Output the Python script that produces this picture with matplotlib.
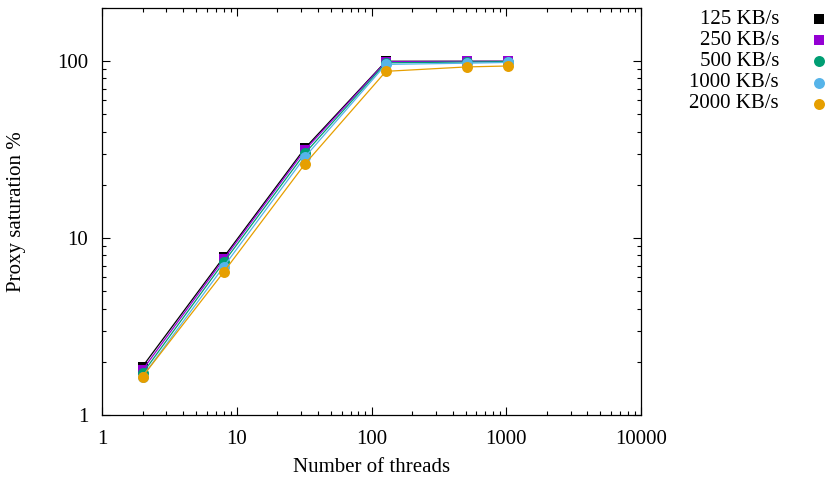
import matplotlib
matplotlib.use("Agg")
import matplotlib.pyplot as plt
from matplotlib.lines import Line2D
from matplotlib.ticker import LogLocator, NullFormatter, FixedLocator, FixedFormatter

plt.rcParams['font.family'] = ['Liberation Serif', 'DejaVu Serif']
plt.rcParams['font.size'] = 15

# data
threads = [2, 8, 32, 128, 512, 1024]
labels = ["125 KB/s", "250 KB/s", "500 KB/s", "1000 KB/s", "2000 KB/s"]
sat_125 = [1.88, 7.8, 32.2, 100.0, 100.0, 100.0]
sat_250 = [1.80, 7.6, 31.4, 99.5, 99.8, 99.9]
sat_500 = [1.72, 7.3, 30.1, 98.0, 99.0, 99.5]
sat_1000 = [1.65, 6.9, 28.7, 96.0, 97.5, 98.5]
sat_2000 = [1.65, 6.43, 26.2, 87.7, 92.9, 94.0]

series = [sat_125, sat_250, sat_500, sat_1000, sat_2000]
colors = ["#000000", "#9400d3", "#009e73", "#56b4e9", "#e69f00"]
markers = ["s", "s", "o", "o", "o"]
msizes = [6.6, 6.6, 7.9, 7.9, 7.9]

W, H = 826, 479
fig = plt.figure(figsize=(W / 100, H / 100), dpi=100)
ax = fig.add_axes([102 / W, 64 / H, 539 / W, 407 / H])

for ys, c, m, ms, lab in zip(series, colors, markers, msizes, labels):
    ax.plot(threads, ys, color=c, lw=0.9, marker=m, markersize=ms,
            markeredgewidth=0, label=lab)

ax.set_xscale("log")
ax.set_yscale("log")
ax.set_xlim(1, 10000)
ax.set_ylim(1, 200)

ax.xaxis.set_major_locator(FixedLocator([1, 10, 100, 1000, 10000]))
ax.xaxis.set_major_formatter(FixedFormatter(["1", "10", "100", "1000", "10000"]))
ax.xaxis.set_minor_locator(LogLocator(base=10, subs=range(2, 10)))
ax.xaxis.set_minor_formatter(NullFormatter())
ax.yaxis.set_major_locator(FixedLocator([1, 10, 100]))
ax.yaxis.set_major_formatter(FixedFormatter(["1", "10", "100"]))
ax.yaxis.set_minor_locator(LogLocator(base=10, subs=range(2, 10)))
ax.yaxis.set_minor_formatter(NullFormatter())

ax.tick_params(which="both", direction="in", top=True, right=True, width=0.8)
ax.tick_params(which="major", length=6, labelsize=15)
ax.tick_params(axis="y", which="major", pad=10)
ax.tick_params(axis="x", which="major", pad=11)
ax.tick_params(which="minor", length=3)
for s in ax.spines.values():
    s.set_linewidth(0.9)

ax.set_xlabel("Number of threads", fontsize=15)
ax.set_ylabel("Proxy saturation %", fontsize=15)
ax.xaxis.set_label_coords(0.5, (415 - 467) / 407)
ax.xaxis.label.set_va("center")
ax.yaxis.set_label_coords((17 - 102) / 539, 0.5)
ax.yaxis.label.set_va("center")

# gnuplot-style key: right-aligned text, marker to the right
for i, (c, m, ms, lab) in enumerate(zip(colors, markers, msizes, labels)):
    yk = 1 - (19 + 21.2 * i) / H
    fig.text(779 / W, yk, lab, ha="right", va="center", fontsize=15)
    fig.add_artist(Line2D([819 / W], [yk], transform=fig.transFigure,
                          marker=m, markersize=ms, color=c,
                          markeredgewidth=0, linestyle="none"))

fig.savefig("out.png", dpi=100)
